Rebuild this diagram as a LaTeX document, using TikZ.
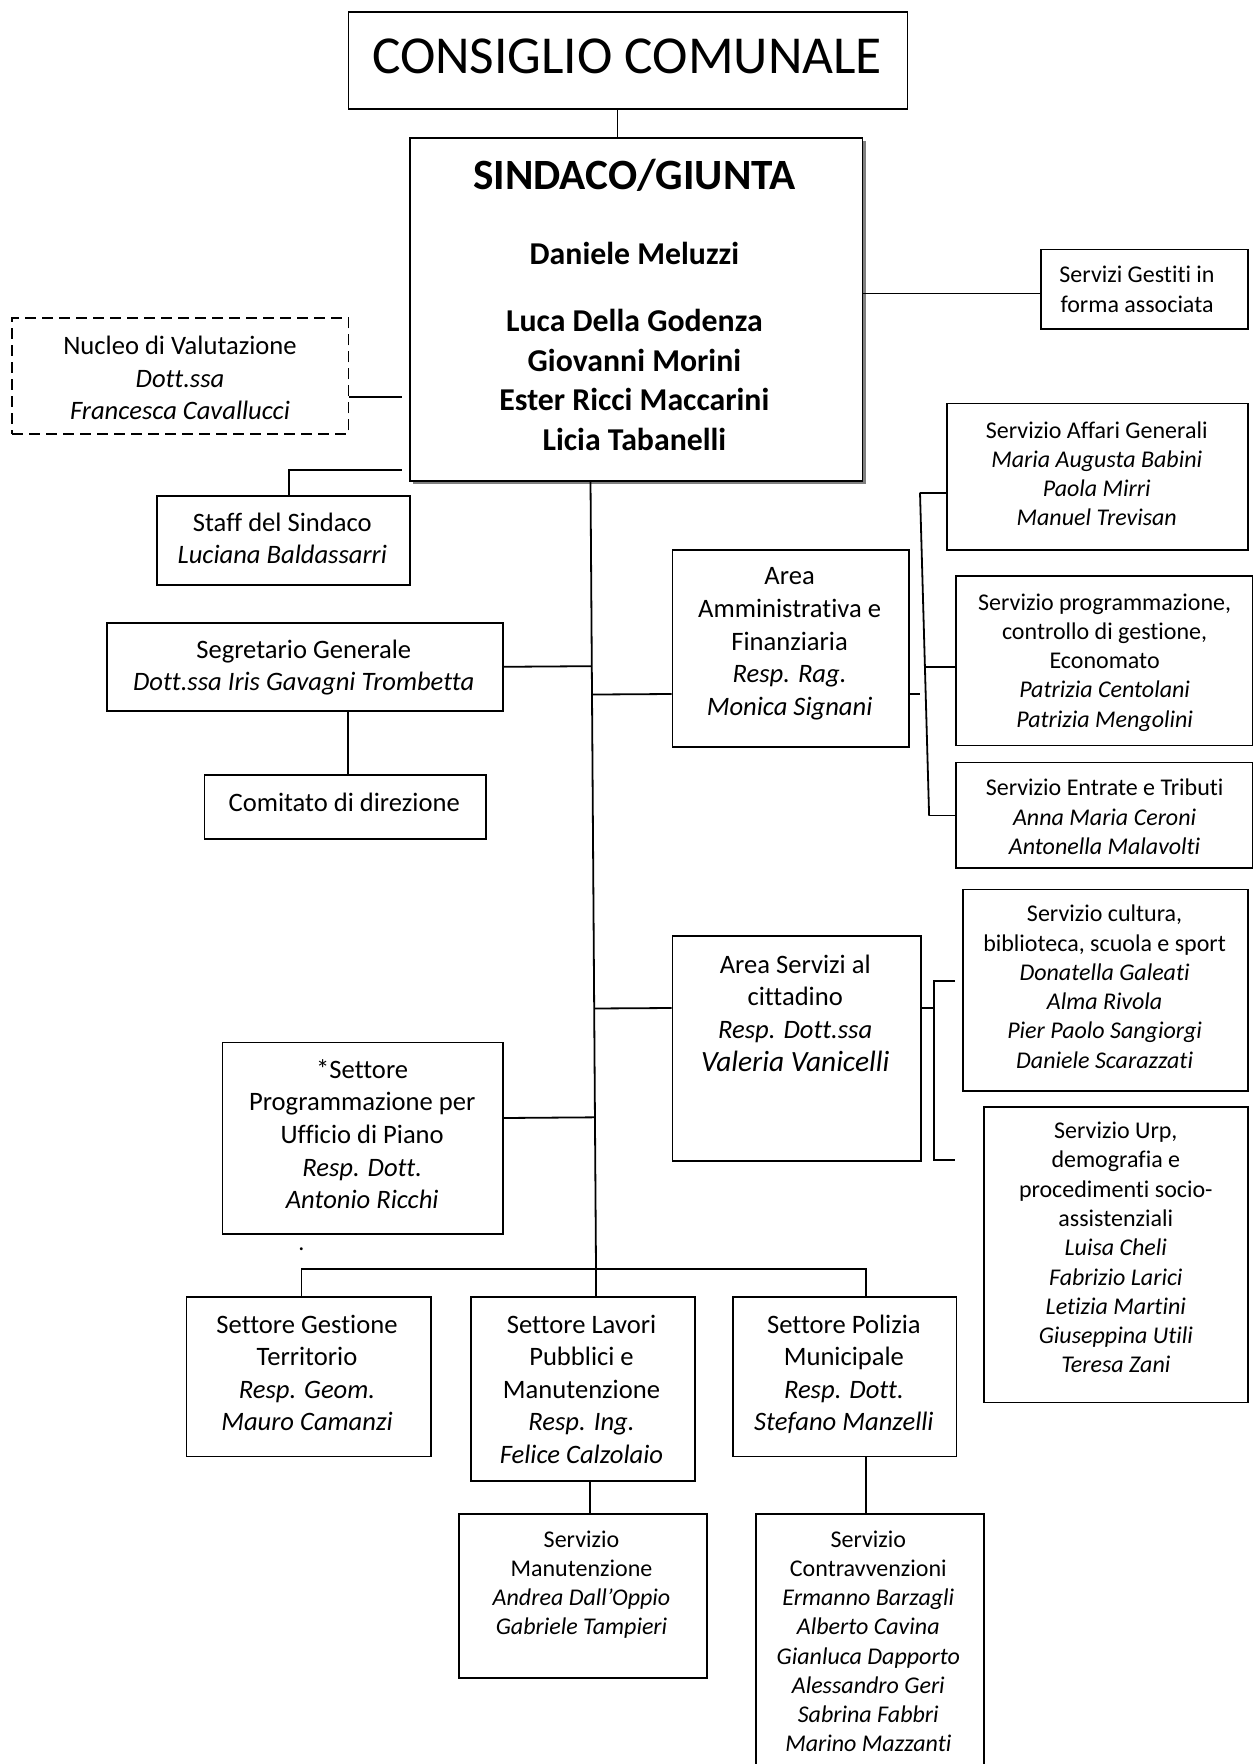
\documentclass[tikz,border=0pt]{standalone}
\usepackage{fontspec}
\setmainfont{Carlito}[Ligatures={NoCommon}]
\usetikzlibrary{calc}
\newcommand\fsA{\fontsize{12}{14.63}\selectfont}
\newcommand\fsB{\fontsize{13.3}{16.3}\selectfont}
\newcommand\fsC{\fontsize{14.7}{17}\selectfont}
\newcommand\fsN{\fontsize{15.9}{19.7}\selectfont\bfseries}
\newcommand\fsT{\fontsize{21.6}{25}\selectfont\bfseries}
\newcommand\fsK{\fontsize{26.7}{30}\selectfont}
\newcommand\obox[6][]{\node[box,#1,minimum width={(#5-#3)*0.5pt},minimum height={(#6-#4)*0.5pt},anchor=north west] (#2) at (#3,#4) {};}
\begin{document}
\begin{tikzpicture}[x=0.5pt,y=-0.5pt,
  box/.style={draw,line width=0.9pt,fill=white,inner sep=0pt},
  txt/.style={inner sep=0pt,align=center,font=\fsA},
  conn/.style={line width=0.9pt}]
\useasboundingbox (0,0) rectangle (1253,1764);
\clip (0,0) rectangle (1253,1764);
\fill[white] (0,0) rectangle (1253,1764);

% ---- top
\obox{cons}{347.6}{11.2}{906.6}{108}
\node[txt,font=\fsK] (cons-t) at (627,56) {CONSIGLIO COMUNALE};
\fill[black!50] (413.4,141.2) rectangle (865.6,484.3);
\obox{sind}{409.4}{137.2}{861.6}{480.3}
\node[txt,font=\fsT,anchor=base] (sind-t) at (634.4,189.2) {SINDACO/GIUNTA};
\node[txt,font=\fsN,anchor=base] (sind-m) at (634.4,264.3) {Daniele Meluzzi};
\node[txt,font=\fsN,anchor=north] (sind-g) at (634.4,309.2) {Luca Della Godenza\\Giovanni Morini\\Ester Ricci Maccarini\\Licia Tabanelli};
\draw[conn] (cons.south -| 617.5,0) -- (sind.north -| 617.5,0);

% ---- servizi gestiti
\obox{sg}{1040.4}{248.6}{1247.4}{328.4}
\node[txt,anchor=north] (sg-t) at (1137,265.9) {Servizi Gestiti in\\forma associata};
\draw[conn] (sind.east |- 0,293.6) -- (sg.west |- 0,293.6);

% ---- nucleo
\obox[dash pattern=on 5.5pt off 3pt]{nuc}{11.2}{317.2}{347.6}{433}
\node[txt,font=\fsB,anchor=north] (nuc-t) at (180,335.7) {Nucleo di Valutazione\\\textit{Dott.ssa}\\\textit{Francesca Cavallucci}};
\coordinate (nucEnd) at (401.6,397);
\draw[conn] (nuc.east |- nucEnd) -- (nucEnd);

% ---- staff
\obox{staff}{156.3}{494.9}{409.4}{583.8}
\node[txt,font=\fsB,anchor=north] (staff-t) at (282.3,512.3) {Staff del Sindaco\\\textit{Luciana Baldassarri}};
\coordinate (staffEnd) at (401.6,470.2);
\draw[conn] (staffEnd) -- (289.1,470.2) -- (staff.north -| 289.1,0);

% ---- trunk
\coordinate (trT) at (590.5,480.3);
\coordinate (trB) at (596,1268.8);
\draw[conn] (trT) -- (trB);

% ---- segretario
\obox{segr}{105.7}{622}{501.7}{709.8}
\node[txt,font=\fsB,anchor=north] (segr-t) at (303.7,639.4) {Segretario Generale\\\textit{Dott.ssa Iris Gavagni Trombetta}};
\draw[conn] (segr.east) -- ($(trT)!(segr.east)!(trB)$);
\obox{com}{203.6}{773.9}{484.8}{838}
\node[txt,font=\fsB,anchor=base] (com-t) at (344.2,811) {Comitato di direzione};
\draw[conn] (segr.south -| 347.6,0) -- (com.north -| 347.6,0);

% ---- area amministrativa
\obox{amm}{671.5}{548.9}{907.7}{745.7}
\node[txt,font=\fsB,anchor=north] (amm-t) at (789.6,567.4) {Area\\Amministrativa e\\Finanziaria\\\textit{Resp. Rag.}\\\textit{Monica Signani}};
\coordinate (ammIn) at (0,694);
\draw[conn] ($(trT)!(amm.west |- ammIn)!(trB)$) -- (amm.west |- ammIn);
\obox{aff}{946}{402.7}{1247.4}{548.9}
\node[txt,anchor=north] (aff-t) at (1096.7,421.1) {Servizio Affari Generali\\\textit{Maria Augusta Babini}\\\textit{Paola Mirri}\\\textit{Manuel Trevisan}};
\obox{prog}{955}{574.8}{1251.5}{744.6}
\node[txt,anchor=north] (prog-t) at (1104.6,593.2) {Servizio programmazione,\\controllo di gestione,\\Economato\\\textit{Patrizia Centolani}\\\textit{Patrizia Mengolini}};
\obox{entr}{955}{761.5}{1251.5}{867.2}
\node[txt,anchor=north] (entr-t) at (1104.6,778.8) {Servizio Entrate e Tributi\\\textit{Anna Maria Ceroni}\\\textit{Antonella Malavolti}};
\coordinate (bA1) at (920,492.7);
\coordinate (bA2) at (924.9,667);
\coordinate (bA3) at (929.1,815.5);
\draw[conn] (amm.east |- ammIn) -- (920,694);
\draw[conn] (bA1) -- (bA3);
\draw[conn] (bA1) -- (aff.west |- bA1);
\draw[conn] (bA2) -- (prog.west |- bA2);
\draw[conn] (bA3) -- (entr.west |- bA3);

% ---- area servizi
\obox{serv}{671.5}{934.7}{920.1}{1159.7}
\node[txt,font=\fsB,anchor=north] (serv-t) at (795.2,954.4) {Area Servizi al\\cittadino\\\textit{Resp. Dott.ssa}\\{\fsC\textit{Valeria Vanicelli}}};
\coordinate (servIn) at (0,1008);
\draw[conn] ($(trT)!(serv.west |- servIn)!(trB)$) -- (serv.west |- servIn);
\coordinate (bS1) at (934,981);
\coordinate (bS2) at (934,1159.7);
\coordinate (bS1e) at (955,981);
\coordinate (bS2e) at (955,1159.7);
\draw[conn] (serv.east |- servIn) -- (934,1008);
\draw[conn] (bS1e) -- (bS1) -- (bS2) -- (bS2e);
\obox{cult}{961.7}{888.6}{1247.4}{1090}
\node[txt,anchor=north] (cult-t) at (1104.6,904.7) {Servizio cultura,\\biblioteca, scuola e sport\\\textit{Donatella Galeati}\\\textit{Alma Rivola}\\\textit{Pier Paolo Sangiorgi}\\\textit{Daniele Scarazzati}};
\obox{urp}{983}{1105.7}{1247.4}{1401.5}
\node[txt,anchor=north] (urp-t) at (1115.8,1121.8) {Servizio Urp,\\demografia e\\procedimenti socio-\\assistenziali\\\textit{Luisa Cheli}\\\textit{Fabrizio Larici}\\\textit{Letizia Martini}\\\textit{Giuseppina Utili}\\\textit{Teresa Zani}};

% ---- settore programmazione
\obox{sprog}{221.6}{1041.6}{501.7}{1232.8}
\node[txt,font=\fsB,anchor=north] (sprog-t) at (362.2,1059) {*Settore\\Programmazione per\\Ufficio di Piano\\\textit{Resp. Dott.}\\\textit{Antonio Ricchi}};
\coordinate (sprogIn) at (0,1118);
\draw[conn] (sprog.east |- sprogIn) -- ($(trT)!(sprog.east |- sprogIn)!(trB)$);
\node[txt,font=\fsA,anchor=base] (dot) at (301.4,1250) {.};

% ---- bottom row
\obox{gest}{185.6}{1295.8}{429.7}{1455.5}
\node[txt,font=\fsB,anchor=north] (gest-t) at (307,1314.3) {Settore Gestione\\Territorio\\\textit{Resp. Geom.}\\\textit{Mauro Camanzi}};
\obox{lav}{470.2}{1295.8}{694}{1480.2}
\node[txt,font=\fsB,anchor=north] (lav-t) at (581.5,1314.3) {Settore Lavori\\Pubblici e\\Manutenzione\\\textit{Resp. Ing.}\\\textit{Felice Calzolaio}};
\obox{pol}{732.2}{1295.8}{955.6}{1455.5}
\node[txt,font=\fsB,anchor=north] (pol-t) at (843.9,1314.3) {Settore Polizia\\Municipale\\\textit{Resp. Dott.}\\\textit{Stefano Manzelli}};
\draw[conn] (gest.north -| 301.4,0) -- (301.4,1268.8) -- (866.1,1268.8) -- (pol.north -| 866.1,0);
\draw[conn] (trB) -- (lav.north -| trB);

\obox{man}{457.8}{1512.9}{706.4}{1677}
\node[txt,anchor=north] (man-t) at (581.5,1530.1) {Servizio\\Manutenzione\\\textit{Andrea Dall’Oppio}\\\textit{Gabriele Tampieri}};
\draw[conn] (lav.south -| 590,0) -- (man.north -| 590,0);
\obox{contr}{754.7}{1512.9}{983}{1800}
\node[txt,anchor=north] (contr-t) at (868.3,1530.1) {Servizio\\Contravvenzioni\\\textit{Ermanno Barzagli}\\\textit{Alberto Cavina}\\\textit{Gianluca Dapporto}\\\textit{Alessandro Geri}\\\textit{Sabrina Fabbri}\\\textit{Marino Mazzanti}};
\draw[conn] (pol.south -| 866.1,0) -- (contr.north -| 866.1,0);
\end{tikzpicture}
\end{document}
